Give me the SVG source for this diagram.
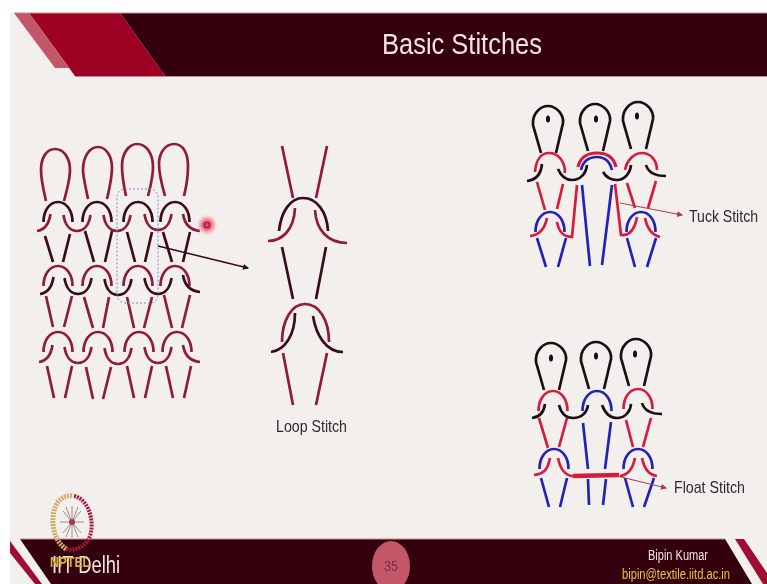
<svg xmlns="http://www.w3.org/2000/svg" width="767" height="584" viewBox="0 0 767 584">
<style>
.s{fill:none;stroke-linecap:butt;stroke-width:2.7}
.cr{stroke:#8e1a3c}.bk{stroke:#3a0f1c}
.k{stroke:#1c1114}.r{stroke:#d41f3c}.b{stroke:#2424b4}
text{font-family:"Liberation Sans",Arial,sans-serif}
.lbl{font-size:17px;fill:#2d2a2a}
</style>
<defs>
<filter id="soft" x="-5%" y="-5%" width="110%" height="110%"><feGaussianBlur stdDeviation="0.45"/></filter>
<radialGradient id="glow"><stop offset="0.35" stop-color="#e8506a"/><stop offset="1" stop-color="#f3c0c8" stop-opacity="0"/></radialGradient>
<marker id="ah" markerWidth="7" markerHeight="7" refX="5" refY="3" orient="auto" markerUnits="userSpaceOnUse"><path d="M0 0L6 3L0 6Z" fill="context-stroke"/></marker>
<path id="arch" d="M-14.5 20C-14.5 8-8 0 0 0C8 0 14.5 8 14.5 20"/>
<path id="wave" d="M-13.5 0C-12 10-7 16 0 16C7 16 12 10 13.5 0"/>
<path id="hl" d="M0 17C7 16 12 10 13.5 0"/>
<path id="hr" d="M0 0C1.5 10 7 16 17 17"/>
<path id="pear" d="M-7 47L-15 19C-16 8-8 0 0 0C8 0 16 8 15 17L8 47"/>
</defs>
<rect width="767" height="584" fill="#fff"/>
<rect x="10" y="13" width="757" height="571" fill="#f3efec"/>
<g filter="url(#soft)">
<g id="header">
<path d="M120 13H767V76H165Z" fill="#360209"/>
<path d="M29 13H120L165 76H75Z" fill="#9c0320"/>
<path d="M14 13H29L69 68H55Z" fill="#c4566a"/>
<path d="M14 13H767M75 76.500H767" fill="none" stroke="#c98a96" stroke-width="1"/>
<text x="462" y="54" text-anchor="middle" font-size="30" fill="#f6e2e2" textLength="160" lengthAdjust="spacingAndGlyphs">Basic Stitches</text>
</g>
<g id="footer">
<path d="M20 539H725L752 584H51Z" fill="#360209"/>
<path d="M10 541L42 584H35L10 553Z" fill="#a01030"/>
<path d="M735 539H744L767 573V584H763Z" fill="#a01030"/>
<path d="M20 539H725" fill="none" stroke="#c98a96" stroke-width="1"/>
<ellipse cx="391" cy="566" rx="19" ry="25" fill="#c4566a"/>
<text x="391" y="571" text-anchor="middle" font-size="15" fill="#7a3040" textLength="14" lengthAdjust="spacingAndGlyphs">35</text>
<text x="52" y="573" font-size="23" fill="#f3e6e0" textLength="68" lengthAdjust="spacingAndGlyphs">IIT Delhi</text>
<text x="678" y="560" text-anchor="middle" font-size="14" fill="#f0e4e0" textLength="60" lengthAdjust="spacingAndGlyphs">Bipin Kumar</text>
<text x="676" y="579" text-anchor="middle" font-size="14" fill="#e8c53a" textLength="108" lengthAdjust="spacingAndGlyphs">bipin@textile.iitd.ac.in</text>
</g>
<g id="logo">
<path d="M66 549C52 540 49 515 58 502C62 497 68 495 73 496" fill="none" stroke="#cfb06a" stroke-width="5" stroke-dasharray="2 1"/>
<path d="M74 496C86 498 94 516 91 532C89 544 78 552 66 549" fill="none" stroke="#a8184e" stroke-width="4" stroke-dasharray="2 1"/>
<path d="M72 506V538M60 522H84M63 511L81 533M81 511L63 533M66 507L78 537M78 507L66 537" fill="none" stroke="#9a8f92" stroke-width="1"/>
<circle cx="72" cy="522" r="3" fill="#b03050"/>
<text x="50" y="567" font-size="15" font-weight="bold" fill="#d8b23a" textLength="40" lengthAdjust="spacingAndGlyphs">NPTEL</text>
</g>
<g id="plain-fabric">
<g class="s cr">
<path d="M46 201C42 184 41 176 41 170C41 157 47 149 55 149C63 149 70 157 70 170C70 178 67 190 64 201"/>
<path d="M88 199C85 184 83 176 83 170C83 156 90 147 98 147C106 147 112 156 112 168C112 178 109 190 107 199"/>
<path d="M126 196C123 182 122 172 122 166C122 153 129 144 137 144C146 144 153 153 153 167C153 178 150 188 148 196"/>
<path d="M165 196C161 182 159 172 159 164C159 152 166 144 174 144C183 144 188 153 188 166C188 177 186 188 184 196"/>
</g>
<g class="s bk"><use href="#arch" x="58" y="202"/><use href="#arch" x="97" y="202"/><use href="#arch" x="138" y="202"/><use href="#arch" x="175" y="202"/></g>
<g class="s cr"><use href="#hl" x="37" y="214"/><use href="#wave" x="77" y="215"/><use href="#wave" x="117" y="215"/><use href="#wave" x="158" y="214"/><use href="#hr" x="183" y="214"/></g>
<path class="s bk" d="M45 236L53 262M70 234L63 262M85 231L94 262M112 231L105 262M127 232L135 262M152 232L145 262M163 232L172 262M190 232L183 262"/>
<g class="s cr"><use href="#arch" x="58" y="266"/><use href="#arch" x="97" y="266"/><use href="#arch" x="138" y="266"/><use href="#arch" x="175" y="266"/></g>
<g class="s bk"><use href="#hl" x="40" y="277"/><use href="#wave" x="78" y="278"/><use href="#wave" x="118" y="279"/><use href="#wave" x="158" y="278"/><use href="#hr" x="183" y="275"/></g>
<path class="s cr" d="M46 296L53 327M72 296L64 327M84 297L93 328M109 297L103 328M127 297L134 328M152 297L144 328M164 295L172 328M190 295L182 328"/>
<g class="s cr"><use href="#arch" x="58" y="332"/><use href="#arch" x="98" y="332"/><use href="#arch" x="139" y="332"/><use href="#arch" x="177" y="332"/>
<use href="#hl" x="39" y="345"/><use href="#wave" x="78" y="347"/><use href="#wave" x="118" y="348"/><use href="#wave" x="158" y="347"/><use href="#hr" x="183" y="345"/></g>
<path class="s cr" d="M47 366L54 398M72 366L65 398M86 367L93 399M111 367L103 399M127 366L134 398M152 366L145 398M166 366L173 398M191 366L184 398"/>
<rect x="117" y="189" width="41" height="114" rx="8" fill="none" stroke="#6f8fc8" stroke-width="1" stroke-dasharray="2 2"/>
</g>
<g id="pointer"><circle cx="207" cy="225" r="11" fill="url(#glow)"/><circle cx="207" cy="225" r="2.5" fill="none" stroke="#a01030" stroke-width="1.2"/></g>
<g id="loop-stitch">
<path class="s cr" d="M282 146L293 198M327 146L316 198"/>
<path class="s bk" d="M279 231C281 212 290 198 303 198C317 198 327 212 328 231"/>
<path class="s cr" d="M268 241C282 241 294 230 295 208M315 210C316 230 328 243 347 243"/>
<path class="s bk" d="M282 247L293 299M326 247L316 299"/>
<path class="s cr" d="M282 342C282 320 292 304 305 304C319 304 329 320 329 342"/>
<path class="s bk" d="M271 352C285 350 295 335 295 313M313 316C316 335 326 352 343 352"/>
<path class="s cr" d="M283 353L293 405M327 353L316 405"/>
<text class="lbl" x="276" y="432" textLength="71" lengthAdjust="spacingAndGlyphs">Loop Stitch</text>
</g>
<g id="tuck-stitch">
<g class="s k"><use href="#pear" x="548" y="106"/><use href="#pear" x="595" y="104"/><use href="#pear" x="638" y="102"/></g>
<g fill="#141012"><ellipse cx="548" cy="119" rx="2" ry="3.5"/><ellipse cx="596" cy="119" rx="2" ry="3.5"/><ellipse cx="637" cy="116" rx="2" ry="3.5"/></g>
<path class="s r" d="M535 172C536 160 541 153 549 153C558 153 565 161 565 173M625 170C627 160 634 153 642 153C651 153 657 161 657 170"/>
<path class="s r" style="stroke-width:3.2" d="M578 167C580 158 587 153 597 153C608 153 614 158 616 167"/>
<path class="s b" d="M581 170C583 161 589 157 597 157C605 157 610 162 612 170"/>
<path class="s k" d="M527 181C536 180 541 174 542 164M558 169C561 176 566 180 572 180C580 180 586 174 587 165M603 172C606 177 611 180 617 180C624 180 630 174 631 165M646 165C648 172 654 176 666 176"/>
<path class="s r" d="M537 182L545 210M563 184L557 209M627 183L635 208M656 181L648 208M577 185L572 237C563 237 559 232 557 222M530 236C540 235 545 228 547 218M615 184L621 235C630 236 635 228 637 217M645 218C647 228 652 235 660 237"/>
<use class="s b" href="#arch" x="550" y="212"/>
<use class="s b" href="#arch" x="641" y="212"/>
<path class="s b" d="M537 238L546 267M566 238L558 267M582 185L590 266M612 185L602 265M627 238L635 267M656 238L647 267"/>
<text class="lbl" x="689" y="222" textLength="69" lengthAdjust="spacingAndGlyphs">Tuck Stitch</text>
</g>
<g id="float-stitch">
<g class="s k"><use href="#pear" x="551" y="343"/><use href="#pear" x="596" y="342"/><use href="#pear" x="636" y="339"/></g>
<g fill="#141012"><ellipse cx="551" cy="358" rx="2" ry="3.5"/><ellipse cx="596" cy="356" rx="2" ry="3.5"/><ellipse cx="635" cy="354" rx="2" ry="3.5"/></g>
<g class="s r"><use href="#arch" x="553" y="391"/><use href="#arch" x="638" y="389"/></g>
<use class="s b" href="#arch" x="597" y="391"/>
<path class="s k" d="M532 418C540 417 544 412 545 404M559 405C561 413 566 418 573 418C581 418 587 413 588 405M602 405C605 413 610 418 617 418C624 418 630 413 631 404M642 403C644 410 650 414 662 414"/>
<path class="s r" d="M539 418L548 448M567 418L559 447M626 420L633 447M651 418L643 447"/>
<path class="s b" d="M583 423L588 469M611 422L605 469M588 479L589 505M606 479L603 505M541 478L549 507M567 478L560 507M625 478L633 507M654 478L644 507"/>
<g class="s b"><use href="#arch" x="554" y="449"/><use href="#arch" x="638" y="449"/></g>
<path class="s r" d="M534 475C545 474 548 468 550 458M558 458C560 468 565 476 573 476M620 476C628 475 633 468 635 458M642 458C644 468 649 475 657 476"/>
<path d="M573 476L619 475" fill="none" stroke="#d41f3c" stroke-width="4.5"/>
<text class="lbl" x="674" y="493" textLength="71" lengthAdjust="spacingAndGlyphs">Float Stitch</text>
</g>
<g id="connectors" fill="none">
<path d="M158 246L248 268" stroke="#2e0a14" stroke-width="1.5" marker-end="url(#ah)"/>
<path d="M620 203L682 215" stroke="#a83a55" stroke-width="1" marker-end="url(#ah)"/>
<path d="M617 476L666 488" stroke="#a83a55" stroke-width="1" marker-end="url(#ah)"/>
</g>
</g>
</svg>
